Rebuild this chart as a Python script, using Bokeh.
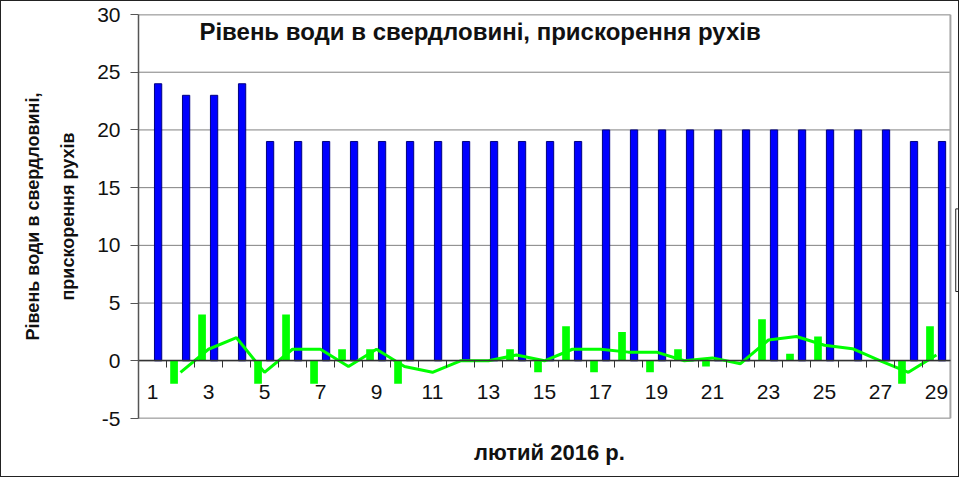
from bokeh.plotting import figure
from bokeh.models import (FixedTicker, LinearAxis, Label,
                          ColumnDataSource, Range1d)
from bokeh.transform import dodge
from bokeh.embed import file_html
from bokeh.resources import INLINE

# ---- data ----
days = list(range(1, 30))
label_days = [1, 3, 5, 7, 9, 11, 13, 15, 17, 19, 21, 23, 25, 27, 29]
water_level = [24, 23, 23, 24, 19, 19, 19, 19, 19, 19, 19, 19, 19, 19, 19, 19,
               20, 20, 20, 20, 20, 20, 20, 20, 20, 20, 20, 19, 19]
acceleration = [0, -2, 4, 0, -2, 4, -2, 1, 1, -2, 0, 0, 0, 1, -1, 3, -1, 2.5,
                -1, 1, -0.5, 0, 3.6, 0.6, 2.1, 0, 0, -2, 3]
acceleration_trend = [float("nan"), -1, 1, 2, -1, 1, 1, -0.5, 1, -0.5, -1, 0, 0,
                      0.5, 0, 1, 1, 0.75, 0.75, 0, 0.25, -0.25, 1.8, 2.1, 1.35,
                      1.05, 0, -1, 0.5]
y_ticks = [-5, 0, 5, 10, 15, 20, 25, 30]
y_tick_text = {-5: "-5"}
boundaries = [d + 0.5 for d in days[:-1]]

title_text = "Рівень води в свердловині, прискорення рухів"
y_title = "Рівень води в свердловині,\nприскорення рухів"
x_title = "лютий 2016 р."

FONT = "Liberation Sans"

X_START, X_END = 0.5, 29.5       # category area
X_VIEW_END = 29.86               # extra room on the right for the legend box
Y_MIN, Y_MAX = -5, 30

src = ColumnDataSource(dict(day=days, level=water_level, acc=acceleration,
                            trend=acceleration_trend))

p = figure(width=959, height=477,
           x_range=Range1d(X_START, X_VIEW_END), y_range=Range1d(Y_MIN, Y_MAX),
           output_backend="svg", toolbar_location=None,
           min_border_left=137, min_border_right=0,
           min_border_top=13, min_border_bottom=60)
p.background_fill_color = "white"
p.border_fill_color = "white"
p.outline_line_color = None
p.styles = {"border": "1px solid #222"}
p.xgrid.visible = False
p.ygrid.visible = False

# horizontal gridlines
p.segment(x0=X_START, x1=X_END, y0=y_ticks, y1=y_ticks,
          line_color="#808080", line_width=1)
# plot-area border (top, bottom, right)
p.segment(x0=[X_START, X_START, X_END], x1=[X_END, X_END, X_END],
          y0=[Y_MAX, Y_MIN, Y_MIN], y1=[Y_MAX, Y_MIN, Y_MAX],
          line_color="#a6a6a6", line_width=2)

p.vbar(x=dodge("day", 0.2), top="level", bottom=0, width=0.26,
       fill_color="#0000FF", line_color="#000080", line_width=1, source=src)
p.vbar(x=dodge("day", -0.23), top="acc", bottom=0, width=0.275,
       fill_color="#00FF00", line_color=None, source=src)
p.line("day", "trend", line_color="#00FF00", line_width=3, source=src)

# empty legend box at the right edge
p.quad(left=[29.69], right=[29.79], bottom=[6.0], top=[13.16],
       fill_color="white", line_color="#222222", line_width=1)

# y axis
ya = p.yaxis[0]
ya.ticker = FixedTicker(ticks=y_ticks)
ya.major_label_overrides = y_tick_text
ya.major_tick_out = 8
ya.major_tick_in = 0
ya.minor_tick_line_color = None
ya.axis_line_color = "#555555"
ya.axis_line_width = 1.5
ya.major_tick_line_color = "#555555"
ya.major_label_standoff = 10
ya.major_label_text_font = FONT
ya.major_label_text_font_size = "21px"
ya.major_label_text_color = "#111111"
ya.axis_label = y_title
ya.axis_label_text_font = FONT
ya.axis_label_text_font_style = "bold"
ya.axis_label_text_font_size = "18px"
ya.axis_label_text_line_height = 1.75
ya.axis_label_text_color = "#111111"
ya.axis_label_standoff = 16

# x axis drawn at y = 0
xa = p.xaxis[0]
xa.fixed_location = 0
xa.bounds = (X_START, X_END)
xa.ticker = FixedTicker(ticks=label_days, minor_ticks=boundaries)
xa.major_tick_line_color = None
xa.major_tick_out = 0
xa.major_tick_in = 0
xa.minor_tick_out = 7
xa.minor_tick_in = 0
xa.minor_tick_line_color = "#333333"
xa.axis_line_color = "#333333"
xa.axis_line_width = 1.5
xa.major_label_standoff = 17
xa.major_label_text_font = FONT
xa.major_label_text_font_size = "21px"
xa.major_label_text_color = "#111111"

# x title axis at bottom
xt = LinearAxis(ticker=FixedTicker(ticks=[]), axis_label=x_title)
xt.axis_line_color = None
xt.major_tick_line_color = None
xt.minor_tick_line_color = None
xt.major_tick_out = 0
xt.major_label_standoff = 0
xt.axis_label_standoff = 21
xt.axis_label_text_font = FONT
xt.axis_label_text_font_style = "bold"
xt.axis_label_text_font_size = "22px"
xt.axis_label_text_color = "#111111"
xt.bounds = (X_START, X_END)
p.add_layout(xt, "below")

# in-plot title
p.add_layout(Label(x=12.7, y=28.55, text=title_text, text_align="center",
                   text_baseline="middle", text_font=FONT,
                   text_font_style="bold", text_font_size="24px",
                   text_color="#111111"))

open("out.html", "w").write(file_html(p, INLINE))
